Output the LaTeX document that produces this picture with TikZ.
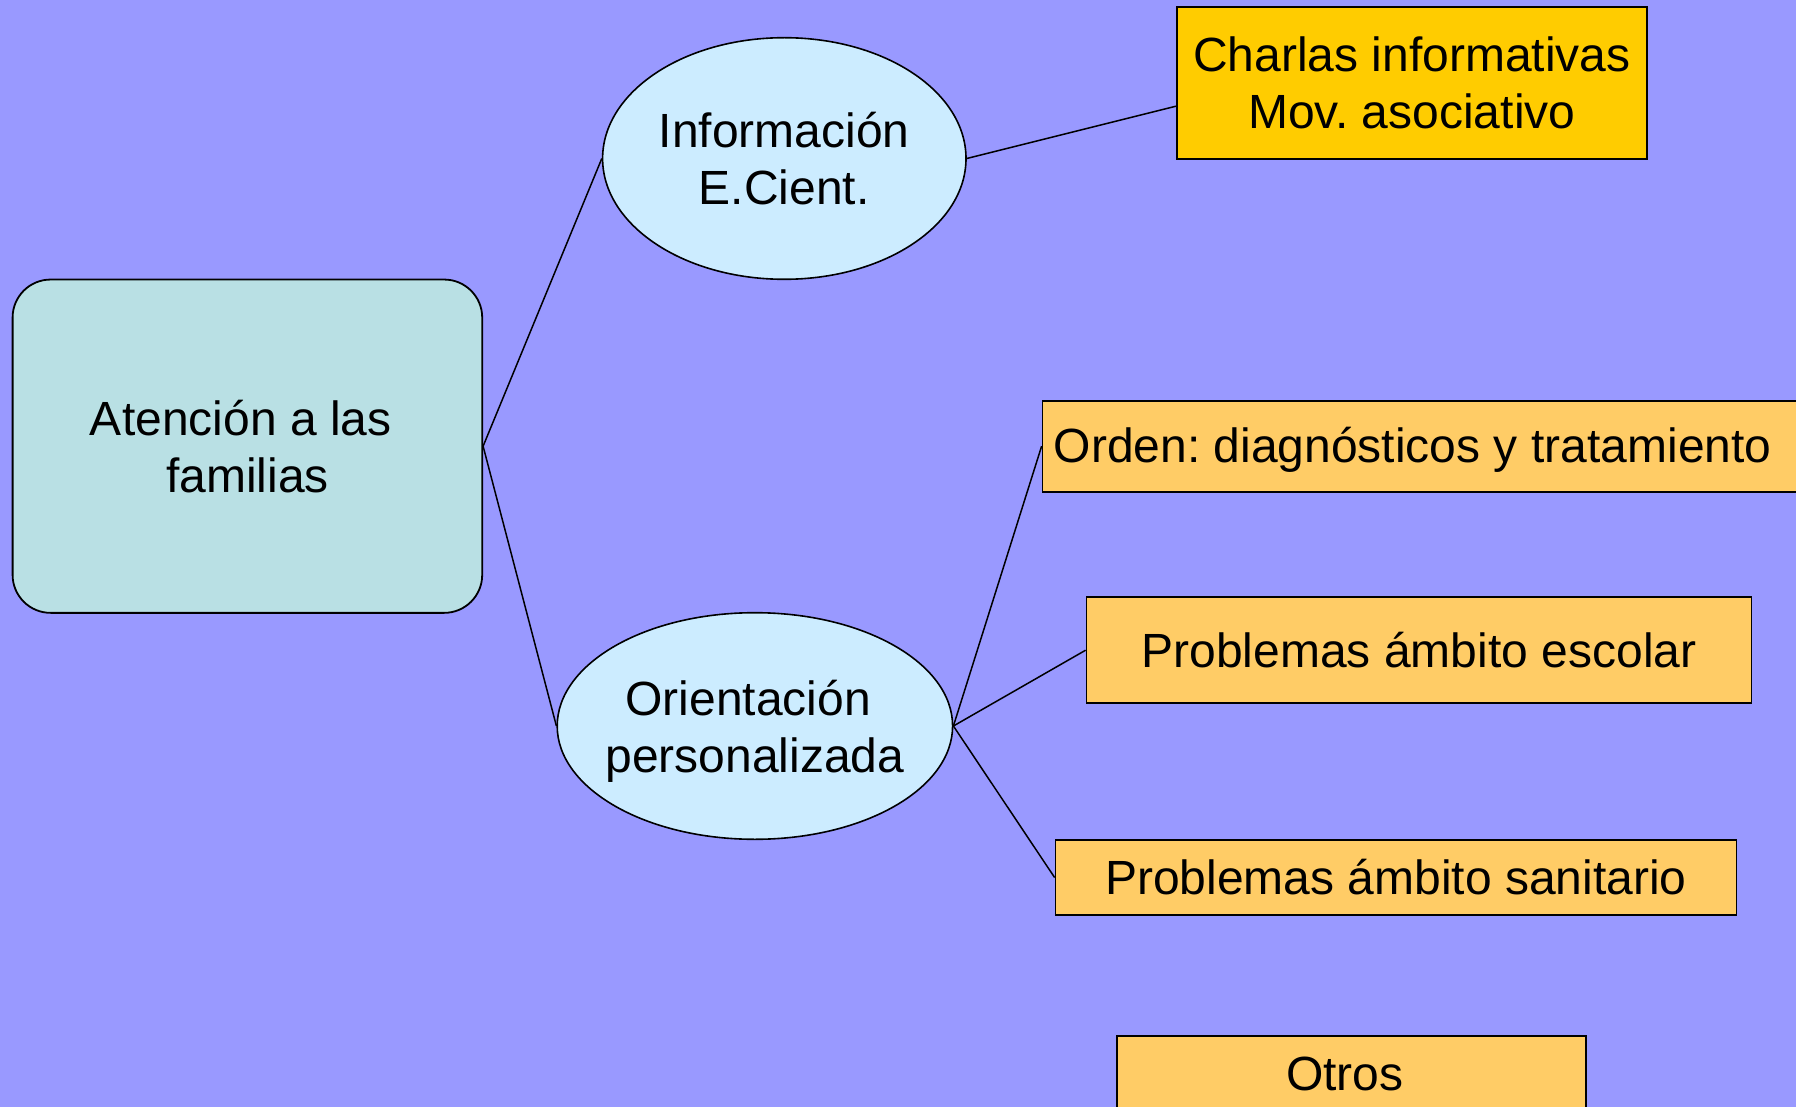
\documentclass[tikz,border=0pt]{standalone}
\usepackage{fontspec}
\setmainfont{Liberation Sans}
\usetikzlibrary{shapes.geometric,calc}
\definecolor{bgblue}{RGB}{153,153,255}
\definecolor{tealfill}{RGB}{185,224,228}
\definecolor{ellfill}{RGB}{204,236,255}
\definecolor{goldfill}{RGB}{255,204,0}
\definecolor{orangefill}{RGB}{255,204,102}
\tikzset{
  txt/.style={font=\fontsize{48}{57}\selectfont\frenchspacing, align=center, inner sep=0pt},
  mainbox/.style={draw=black, line width=1.8pt, fill=tealfill, rounded corners=38pt,
    minimum width=469.6pt, minimum height=333.3pt, inner sep=0pt, txt},
  ellnode/.style={ellipse, draw=black, line width=1.6pt, fill=ellfill, inner sep=0pt},
  leafbox/.style={draw=black, line width=1.8pt, fill=orangefill, inner sep=0pt, txt},
  conn/.style={draw=black, line width=1.5pt}
}
\begin{document}
\begin{tikzpicture}[x=1pt,y=-1pt]
\useasboundingbox (0,0) rectangle (1796,1107);
\clip (0,0) rectangle (1796,1107);
\fill[bgblue] (0,0) rectangle (1796,1107);

\node[mainbox] (root) at (247.4,446.2) {Atención a las\hspace*{13.3pt}\\familias};

\node[ellnode, minimum width=363.4pt, minimum height=241.6pt] (info) at (784.3,158.5) {};
\node[txt] (infotxt) at (info.center) {Información\\E.Cient.};

\node[ellnode, minimum width=395.4pt, minimum height=226.6pt] (orient) at (754.9,726) {};
\node[txt] (orienttxt) at ([yshift=-5pt]orient.center) {Orientación\hspace*{13.3pt}\\personalizada};

\node[leafbox, fill=goldfill, minimum width=470pt, minimum height=151.7pt] (charlas) at (1411.8,83.2) {Charlas informativas\\Mov. asociativo};

\node[leafbox, anchor=west, minimum height=91pt, inner xsep=12pt, text width=780pt, align=left] (orden) at (1041.6,446.2) {};
\node[txt, anchor=west] (ordentxt) at ([xshift=12pt,yshift=-4pt]orden.west) {Orden: diagnósticos y tratamiento};

\node[leafbox, minimum width=665pt, minimum height=105.7pt] (escolar) at (1419,650.2) {Problemas ámbito escolar};

\node[leafbox, minimum width=681pt, minimum height=75pt] (sanit) at (1396,877.5) {Problemas ámbito sanitario};

\node[leafbox, minimum width=468.8pt, minimum height=75pt] (otros) at (1351.4,1073.5) {Otros\hspace*{13.3pt}};

\draw[conn] (root.east) -- (info.west);
\draw[conn] (root.east) -- (orient.west);
\draw[conn] (info.east) -- ([yshift=-23pt]charlas.west);
\draw[conn] (orient.east) -- (orden.west);
\draw[conn] (orient.east) -- (escolar.west);
\draw[conn] (orient.east) -- (sanit.west);
\end{tikzpicture}
\end{document}
